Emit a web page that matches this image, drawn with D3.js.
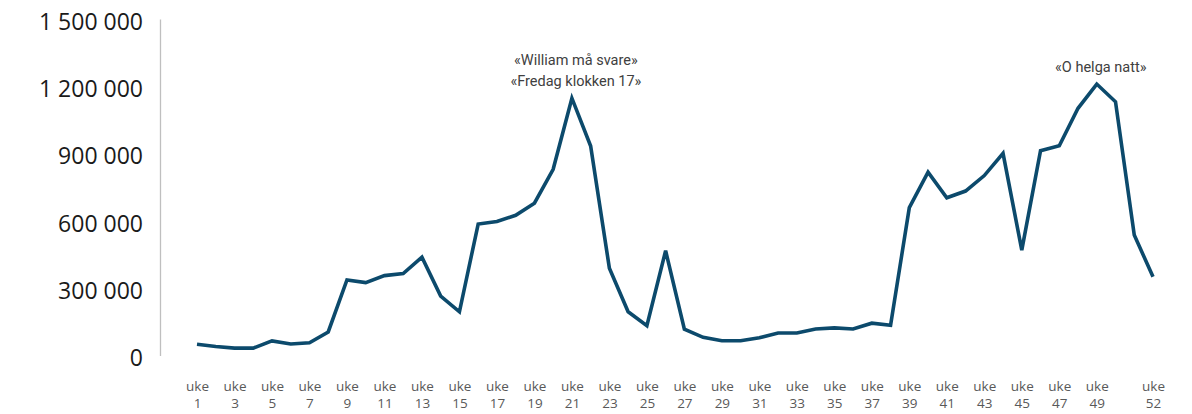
<!DOCTYPE html>
<html>
<head>
<meta charset="utf-8">
<script src="https://cdn.jsdelivr.net/npm/d3@7"></script>
<style>
  body { margin: 0; background: #fff; }
  svg { display: block; }
</style>
</head>
<body>
<div id="chart"></div>
<script>
// Chart data
const weeks = d3.range(1, 53);
const listeners = [
  50000, 40000, 33000, 33000, 65000, 51000, 57000, 105000, 337000, 325000,
  356000, 365000, 438000, 265000, 195000, 586000, 597000, 625000, 679000, 830000,
  1147000, 934000, 389000, 195000, 133000, 467000, 117000, 81000, 66000, 66000,
  79000, 100000, 100000, 118000, 123000, 118000, 144000, 135000, 659000, 817000,
  703000, 733000, 802000, 901000, 470000, 913000, 935000, 1102000, 1210000, 1131000,
  537000, 351000
];
const yTicks = [0, 300000, 600000, 900000, 1200000, 1500000];
const xTickWeeks = [1, 3, 5, 7, 9, 11, 13, 15, 17, 19, 21, 23, 25, 27, 29, 31, 33, 35, 37, 39, 41, 43, 45, 47, 49, 52];
const annotations = [
  { week: 21, lines: ["«William må svare»", "«Fredag klokken 17»"] },
  { week: 49, lines: ["«O helga natt»"] }
];

const svgWidth = 1192;
const svgHeight = 414;

const svg = d3.select("#chart")
  .append("svg")
  .attr("width", svgWidth)
  .attr("height", svgHeight);

// scales
const x = d3.scaleLinear()
  .domain([1, 52])
  .range([197, 1153]);

const y = d3.scaleLinear()
  .domain([0, 1500000])
  .range([355.5, 19]);

const fmt = v => d3.format(",")(v).replace(/,/g, " ");

// y axis
const yAxis = svg.append("g")
  .attr("transform", "translate(160,0)")
  .call(d3.axisLeft(y).tickValues(yTicks).tickSize(0).tickPadding(17).tickFormat(fmt));

yAxis.select(".domain")
  .attr("stroke", "#bfbfbf")
  .attr("stroke-width", 1.3);

yAxis.selectAll("text")
  .attr("font-family", "'Open Sans', sans-serif")
  .attr("font-size", 23)
  .attr("fill", "#1a1a1a")
  .attr("dy", "0.45em");

// x axis labels (two lines)
const xAxis = svg.append("g")
  .attr("transform", "translate(0,372)")
  .call(d3.axisBottom(x).tickValues(xTickWeeks).tickSize(0).tickFormat(""));

xAxis.select(".domain").remove();

xAxis.selectAll(".tick").each(function(d) {
  const t = d3.select(this).append("text")
    .attr("fill", "#595959")
    .attr("font-family", "'Open Sans', sans-serif")
    .attr("font-size", 13.5)
    .attr("text-anchor", "middle");
  t.append("tspan").attr("x", 0).attr("y", 19).text("uke");
  t.append("tspan").attr("x", 0).attr("y", 36).text(d);
});

// line
const line = d3.line()
  .x((d, i) => x(weeks[i]))
  .y(d => y(d));

svg.append("path")
  .datum(listeners)
  .attr("fill", "none")
  .attr("stroke", "#0c4a6c")
  .attr("stroke-width", 3.6)
  .attr("stroke-linejoin", "miter")
  .attr("d", line);

// annotations
annotations.forEach(a => {
  const peak = listeners[a.week - 1];
  const n = a.lines.length;
  const t = svg.append("text")
    .attr("text-anchor", "middle")
    .attr("font-family", "Roboto, sans-serif")
    .attr("font-size", 14.5)
    .attr("fill", "#404040");
  a.lines.forEach((l, i) => {
    t.append("tspan")
      .attr("x", x(a.week) + 4)
      .attr("y", y(peak) - 12 - (n - 1 - i) * 21)
      .text(l);
  });
});
</script>
</body>
</html>
